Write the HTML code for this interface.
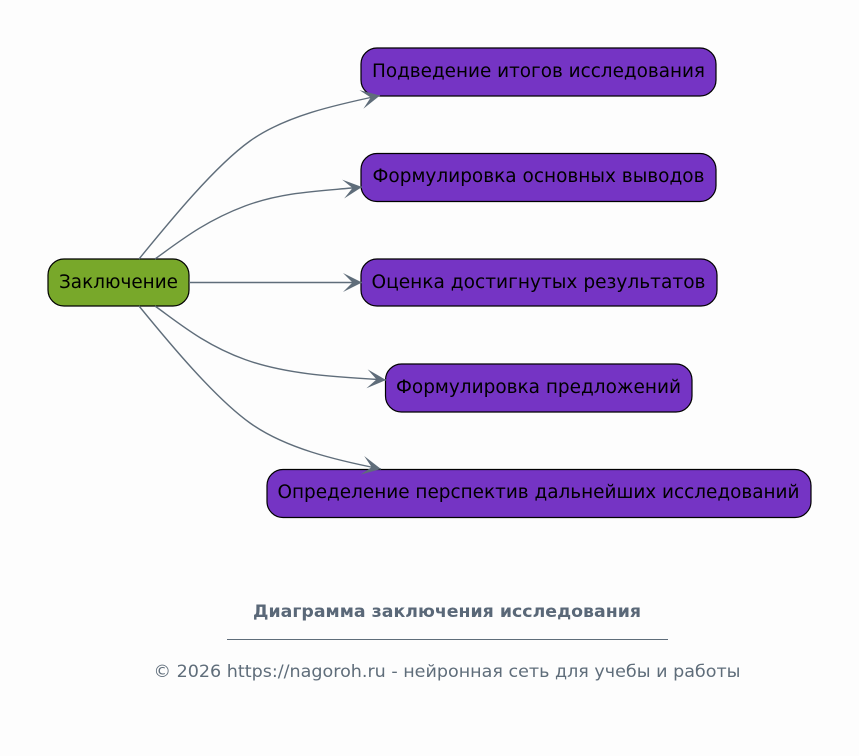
<!DOCTYPE html>
<html><head><meta charset="utf-8"><style>
html,body{margin:0;padding:0;background:#fdfdfd}
svg{display:block}
text{font-family:"DejaVu Sans",sans-serif}
.n{font-size:18.2px;fill:#000;text-anchor:middle}
.e{fill:none;stroke:#5f6d7a;stroke-width:1.4}
.r{stroke:#000;stroke-width:1.2}
.p{fill:#7534c4}
</style></head><body>
<svg width="859" height="756" viewBox="0 0 859 756" xmlns="http://www.w3.org/2000/svg">
<defs><marker id="b" markerUnits="userSpaceOnUse" viewBox="0 0 20 20" refX="19.500" refY="10" markerWidth="20" markerHeight="20" orient="auto"><path d="M19.500,10 L0.500,19.500 L10,10 L0.500,0.500 Z" fill="#5f6d7a"/></marker></defs>
<rect width="859" height="756" fill="#fdfdfd"/>
<rect class="r" x="48" y="259" width="141" height="47" rx="16" fill="#78a82a"/>
<rect class="r p" x="361" y="48" width="355" height="48" rx="16"/>
<rect class="r p" x="361" y="153.500" width="355" height="48" rx="16"/>
<rect class="r p" x="361" y="259" width="356" height="47" rx="16"/>
<rect class="r p" x="385.500" y="364" width="306.500" height="48" rx="16"/>
<rect class="r p" x="267" y="469.500" width="544" height="48" rx="16"/>
<path class="e" marker-end="url(#b)" d="M139,259 C170,221 215,166 250,141 C285,116 335,105 380,95.500"/>
<path class="e" marker-end="url(#b)" d="M155,259 C180,241 205,221 245,206 C285,191 325,191 362,187"/>
<path class="e" marker-end="url(#b)" d="M189,282.500 H362"/>
<path class="e" marker-end="url(#b)" d="M155,306 C180,324 205,345 245,359.500 C285,374 330,376.500 386,380"/>
<path class="e" marker-end="url(#b)" d="M139,306 C170,344 215,398 250,423 C285,448 335,460 381,469"/>
<text class="n" x="118.500" y="288" textLength="119" lengthAdjust="spacingAndGlyphs">Заключение</text>
<text class="n" x="538.500" y="77" textLength="333" lengthAdjust="spacingAndGlyphs">Подведение итогов исследования</text>
<text class="n" x="538.500" y="182" textLength="332" lengthAdjust="spacingAndGlyphs">Формулировка основных выводов</text>
<text class="n" x="538.500" y="288" textLength="334" lengthAdjust="spacingAndGlyphs">Оценка достигнутых результатов</text>
<text class="n" x="538.500" y="393" textLength="285" lengthAdjust="spacingAndGlyphs">Формулировка предложений</text>
<text class="n" x="538.500" y="498" textLength="522" lengthAdjust="spacingAndGlyphs">Определение перспектив дальнейших исследований</text>
<text x="447" y="617" text-anchor="middle" font-size="16.800" font-weight="bold" fill="#5a6878" textLength="388" lengthAdjust="spacingAndGlyphs">Диаграмма заключения исследования</text>
<rect x="227" y="639" width="441" height="1" fill="#5f6d7a"/>
<text x="447" y="677" text-anchor="middle" font-size="16.800" fill="#5f6d7a" textLength="587" lengthAdjust="spacingAndGlyphs">© 2026 https://nagoroh.ru - нейронная сеть для учебы и работы</text>
</svg>
</body></html>
